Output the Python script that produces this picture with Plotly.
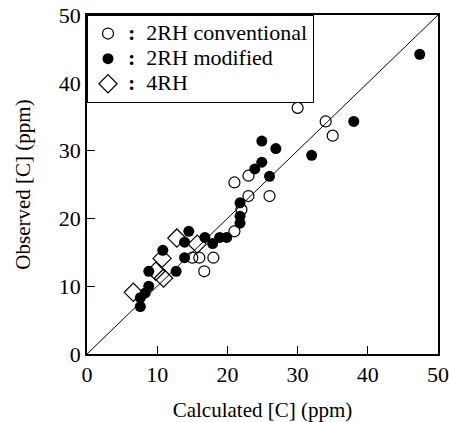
import plotly.graph_objects as go

# 2RH conventional (open circles)
conv_x = [30, 34, 35, 23, 21, 23, 26, 21, 22, 15, 16, 18, 16.7]
conv_y = [36.3, 34.3, 32.2, 26.3, 25.3, 23.3, 23.3, 18.1, 21.3, 14.2, 14.2, 14.2, 12.2]

# 2RH modified (filled circles)
mod_x = [47.4, 38, 32, 24.9, 26.9, 24.9, 23.9, 26, 21.8, 21.8, 21.8,
         16.8, 17.9, 18.9, 19.9, 14.5, 13.9, 13.9, 10.8, 12.7, 8.8, 8.8, 8.3, 7.6, 7.6]
mod_y = [44.2, 34.3, 29.3, 31.4, 30.3, 28.3, 27.3, 26.2, 22.3, 20.3, 19.3,
         17.2, 16.3, 17.2, 17.2, 18.1, 16.5, 14.2, 15.3, 12.2, 12.2, 10.0, 9.0, 8.3, 7.0]

# 4RH (open diamonds)
rh4_x = [6.6, 9.8, 10.9, 10.7, 12.8, 15.7]
rh4_y = [9.1, 12.2, 11.2, 14.1, 17.1, 16.2]

line_x = [0, 50]
line_y = [0, 50]

tick_vals = [0, 10, 20, 30, 40, 50]

serif = "Liberation Serif"


def big(label):
    return '<span style="font-size:22px"><b>:</b>  ' + label + '</span>'


fig = go.Figure()
fig.add_trace(go.Scatter(x=line_x, y=line_y, mode="lines",
                         line=dict(color="black", width=1), showlegend=False,
                         hoverinfo="skip"))
fig.add_trace(go.Scatter(x=conv_x, y=conv_y, mode="markers",
                         name=big("2RH conventional"),
                         marker=dict(symbol="circle-open", size=11, color="black",
                                     line=dict(width=1.2))))
fig.add_trace(go.Scatter(x=mod_x, y=mod_y, mode="markers",
                         name=big("2RH modified"),
                         marker=dict(symbol="circle", size=11, color="black")))
fig.add_trace(go.Scatter(x=rh4_x, y=rh4_y, mode="markers",
                         name=big("4RH"),
                         marker=dict(symbol="diamond-open", size=14, color="black",
                                     line=dict(width=1.2))))

axis_common = dict(range=[0, 50], tickvals=tick_vals, ticks="inside", ticklen=8,
                   tickcolor="black", showgrid=False, zeroline=False, automargin=False,
                   showline=True, linecolor="black", linewidth=1.5, mirror=True,
                   tickfont=dict(family=serif, size=22, color="black"))

fig.update_layout(
    width=449, height=422,
    margin=dict(l=87, r=11, t=15, b=68),
    plot_bgcolor="white", paper_bgcolor="white",
    font=dict(family=serif, size=21, color="black"),
    xaxis=dict(**axis_common,
               title=dict(text="Calculated [C] (ppm)", standoff=17,
                          font=dict(family=serif, size=21))),
    yaxis=dict(**axis_common,
               title=dict(text="Observed [C] (ppm)", standoff=22,
                          font=dict(family=serif, size=21))),
    legend=dict(x=0, y=1, xanchor="left", yanchor="top",
                bordercolor="black", borderwidth=1, bgcolor="white",
                font=dict(family=serif, size=17, color="black"),
                itemwidth=30, tracegroupgap=0),
)

fig.write_html("out.html", config={"displayModeBar": False},
               post_script="document.body.style.margin='0';document.body.style.overflow='hidden';")
